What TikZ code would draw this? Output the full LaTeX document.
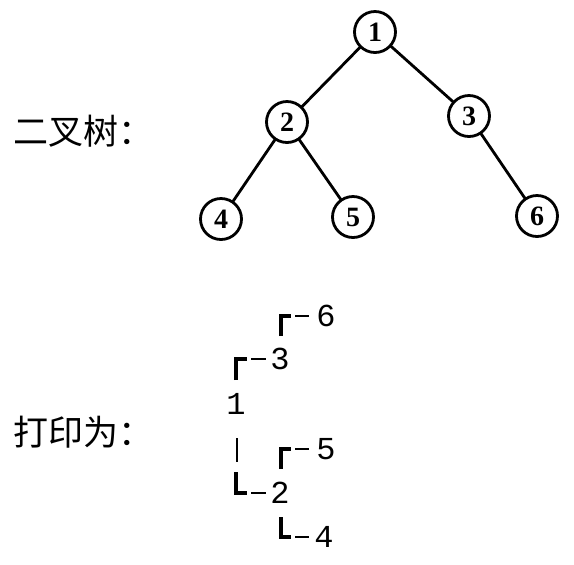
\documentclass[tikz,border=0pt]{standalone}
\usepackage{fontspec}
\setmainfont{Liberation Serif}
\setmonofont{Liberation Mono}
\newfontfamily\cjk{Noto Sans CJK SC}
\usepackage{tkz-graph}

\tikzset{
  label/.style={anchor=west, inner sep=0pt, font=\cjk\fontsize{17.5}{17.5}\selectfont},
  digit/.style={inner sep=0pt, font=\ttfamily\fontsize{16}{16}\selectfont},
  corner/.style={line width=1.6pt, line cap=butt},
  dashline/.style={line width=0.8pt}
}

\begin{document}
\begin{tikzpicture}[x=0.5pt,y=-0.5pt]
        \useasboundingbox (0,0) rectangle (574,564);
        \SetUpEdge[lw = 1.4pt,
        color = black]
        \GraphInit[vstyle=Normal]
        \tikzset{VertexStyle/.style={circle, draw, line width=1.4pt,
          minimum size=20.5pt, inner sep=0pt, fill=white,
          font=\bfseries\fontsize{14}{14}\selectfont}}
        \Vertex[x=375, y=32, L=1]{A}
        \Vertex[x=287, y=122, L=2]{B}
        \Vertex[x=469, y=116, L=3]{C}
        \Vertex[x=221, y=219, L=4]{D}
        \Vertex[x=353, y=217, L=5]{E}
        \Vertex[x=537, y=216, L=6]{F}
        \tikzset{EdgeStyle/.style={-, line width=1.4pt, color=black}}
        \Edge(A)(B)
        \Edge(A)(C)
        \Edge(B)(D)
        \Edge(B)(E)
        \Edge(C)(F)
        % labels
        \node[label] (tree) at (13,131) {二叉树：};
        \node[label] (print) at (13,432) {打印为：};
        % printed tree
        \node[digit] (p6) at (326,316) {6};
        \node[digit] (p3) at (280,359) {3};
        \node[digit] (p1) at (236,404) {1};
        \node[digit] (p5) at (326,449) {5};
        \node[digit] (p2) at (280,493) {2};
        \node[digit] (p4) at (324,537) {4};
        \draw[corner] (281,336) |- (291,316);
        \draw[dashline] (295,316) -- (309,316);
        \draw[corner] (236,380) |- (247,359);
        \draw[dashline] (251,359) -- (266,359);
        \draw[dashline] (237,438) -- (237,462);
        \draw[corner] (281,469) |- (291,449);
        \draw[dashline] (295,449) -- (309,449);
        \draw[corner] (236,472) |- (247,493);
        \draw[dashline] (251,493) -- (266,493);
        \draw[corner] (281,517) |- (291,537);
        \draw[dashline] (295,537) -- (309,537);
\end{tikzpicture}
\end{document}
